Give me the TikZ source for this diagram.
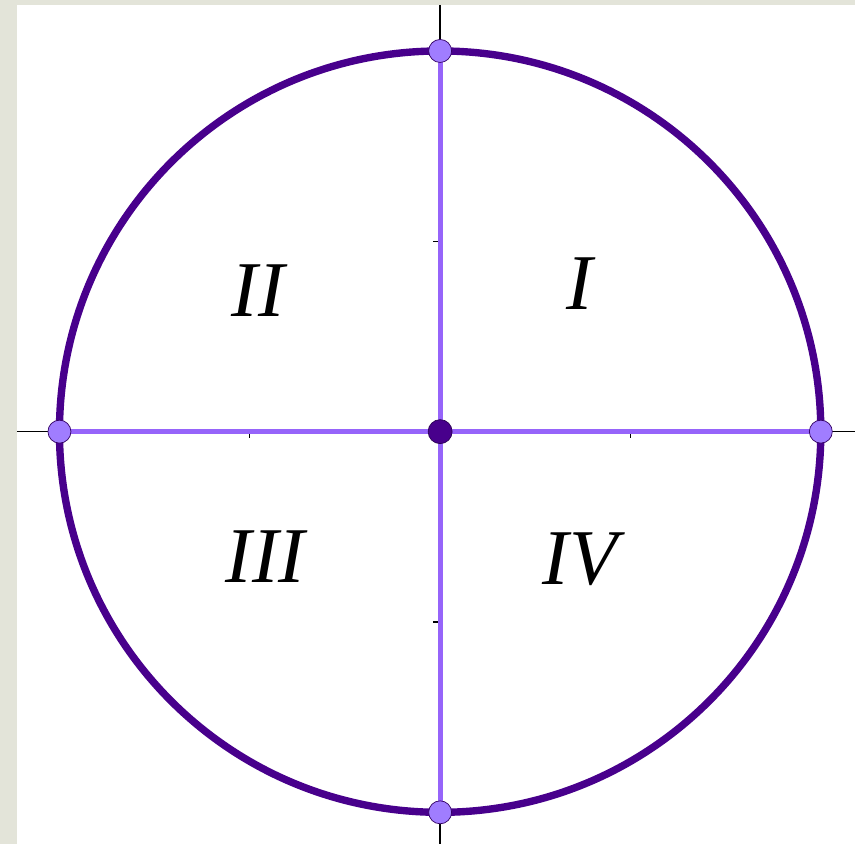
\documentclass[tikz,border=0pt]{standalone}
\usepackage{fontspec}
\setmainfont{Liberation Serif}
\usepackage{tikz}
\usetikzlibrary{backgrounds}

\definecolor{darkpurple}{RGB}{72,0,140}
\definecolor{linepurple}{RGB}{150,100,250}
\definecolor{dotpurple}{RGB}{160,125,255}
\definecolor{framegray}{RGB}{227,228,217}

\tikzset{
    dot/.style={circle, draw=darkpurple!70!black, fill=dotpurple, inner sep=0pt, minimum size=0.46cm},
    origin/.style={circle, draw=darkpurple!60!black, fill=darkpurple, inner sep=0pt, minimum size=0.48cm},
    quadrant/.style={font=\fontsize{45}{50}\selectfont\itshape}
}

\begin{document}
\begin{tikzpicture}[x=0.02cm, y=0.02cm]
                % Nodes
                \node[dot] (L) at (-381,0) {};
                \node[dot] (R) at (381,0) {};
                \node[dot] (T) at (0,381) {};
                \node[dot] (B) at (0,-381) {};
                \node[origin] (O) at (0,0) {};

                \coordinate (xl) at (-423.5,0);
                \coordinate (xr) at (415.5,0);
                \coordinate (yt) at (0,427);
                \coordinate (yb) at (0,-413);

                \begin{scope}[on background layer]
                % Frame
                \fill[framegray] (-440.5,432) rectangle (415.5,-413);
                \fill[white] (-423.5,427) rectangle (415.5,-413);

                % Axes
                \draw[line width=0.8pt] (xl)--(xr);
                \draw[line width=0.8pt] (yt)--(yb);
                \draw[line width=0.8pt] (-7,190.5)--(0,190.5);
                \draw[line width=0.8pt] (-7,-190.5)--(0,-190.5);
                \draw[line width=0.8pt] (-190.5,-6)--(-190.5,0);
                \draw[line width=0.8pt] (190.5,-6)--(190.5,0);

                % Edges
                \draw[linepurple, line width=2.9pt] (L.center)--(R.center);
                \draw[linepurple, line width=2.9pt] (T.center)--(B.center);
                \draw[darkpurple, line width=4.2pt] (O.center) circle[radius=381];
                \end{scope}

                % Labels
                \node[quadrant] (q1) at (140,148) {I};
                \node[quadrant] (q2) at (-182,141) {II};
                \node[quadrant] (q3) at (-175,-125) {III};
                \node[quadrant] (q4) at (140,-128) {IV};

                \useasboundingbox (-440.5,432) rectangle (415.5,-413);
            \end{tikzpicture}
\end{document}
